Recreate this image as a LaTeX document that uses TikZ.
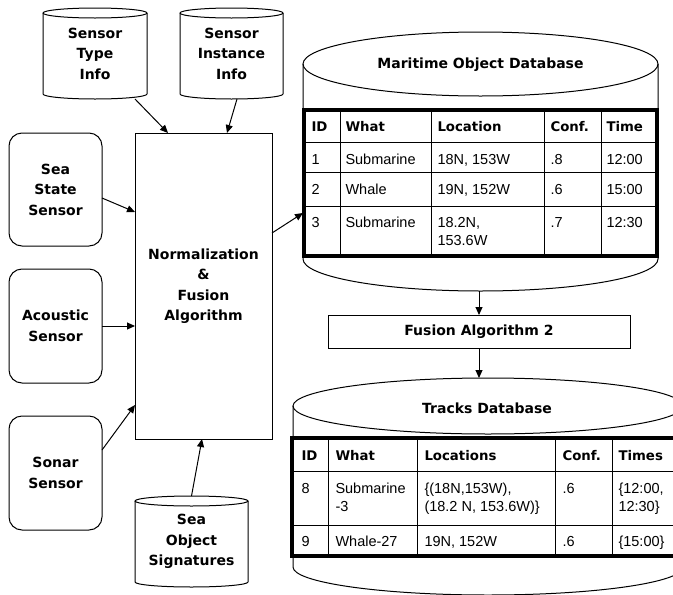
\documentclass[tikz,border=0pt]{standalone}
\usepackage{fontspec}
\setmainfont{Liberation Sans}
\newfontfamily\lblfont{DejaVu Sans}
\usetikzlibrary{arrows.meta,calc}

% cylinder outline round an (invisible) node: node, x radius, y radius
\newcommand{\dbshape}[3]{%
  \draw ($(#1.north west)+(0,#3)$) -- ($(#1.south west)-(0,#3)$)
    arc[start angle=180,end angle=0,x radius=#2,y radius=#3]
    -- ($(#1.north east)+(0,#3)$);
  \draw ($(#1.north)+(0,#3)$) ellipse [x radius=#2,y radius=#3];
}
\newcommand{\twoln}[2]{\vtop{\hbox{#1}\hbox{#2}}}

\begin{document}
\begin{tikzpicture}[x=1pt,y=-1pt,line width=1pt,
  lbl/.style={font=\lblfont\bfseries\fontsize{14}{20.5}\selectfont,align=center,inner sep=0pt,outer sep=0pt},
  proc/.style={lbl,draw},
  sensor/.style={proc,rounded corners=13pt},
  store/.style={lbl},
  head/.style={font=\lblfont\bfseries\fontsize{13.3}{16}\selectfont,inner sep=0pt,anchor=base west},
  cell/.style={font=\fontsize{14.5}{18}\selectfont,inner sep=0pt,anchor=base west},
  arr/.style={-{Triangle[length=8pt,width=7pt]}}]
\useasboundingbox (0,0) rectangle (673,595);
\clip (0,0) rectangle (673,595);

% stores
\node[store,minimum width=104pt,minimum height=91pt] (typeinfo) at (95,53.5) {Sensor\\Type\\Info};
\node[store,minimum width=103pt,minimum height=91pt] (instinfo) at (231.5,53.5) {Sensor\\Instance\\Info};
\node[store,minimum width=113pt,minimum height=91pt] (signatures) at (191.5,541.5) {Sea\\Object\\Signatures};
\dbshape{typeinfo}{52}{5}
\dbshape{instinfo}{51.5}{5}
\dbshape{signatures}{56.5}{5}

% sensors
\node[sensor,minimum width=93pt,minimum height=113pt] (seastate) at (55.5,189.5) {Sea\\State\\Sensor};
\node[sensor,minimum width=93pt,minimum height=114pt] (acoustic) at (55.5,326) {Acoustic\\Sensor};
\node[sensor,minimum width=93pt,minimum height=114pt] (sonar) at (55.5,473) {Sonar\\Sensor};
\node[proc,minimum width=137pt,minimum height=306pt] (norm) at (203.5,286) {Normalization\\\&\\Fusion\\Algorithm};

% maritime object database
\node[store,minimum width=355pt,minimum height=259pt] (modb) at (480.5,161.5) {};
\dbshape{modb}{177.5}{32}
\node[lbl] (modbtitle) at (480.5,65) {Maritime Object Database};
\draw[fill=white] (304,110) rectangle (657,256);
\foreach \x in {340,431,544,601} \draw (\x,110) -- (\x,256);
\foreach \y in {142,172,206} \draw (304,\y) -- (657,\y);
\draw[line width=3.5pt] (304,110) rectangle (657,256);
\foreach \x/\t [count=\i] in {311/ID,345/What,437/Location,550/Conf.,606/Time}
  \node[head] (mh\i) at (\x,131) {\t};
\foreach \y/\a/\b/\c/\d/\e [count=\r] in {164.5/1/Submarine/{18N, 153W}/.8/12:00,
    194/2/Whale/{19N, 152W}/.6/15:00,
    227.5/3/Submarine/{\twoln{18.2N,}{153.6W}}/.7/12:30} {
  \node[cell] (m\r-id) at (311,\y) {\a};
  \node[cell] (m\r-what) at (345,\y) {\b};
  \node[cell] (m\r-loc) at (437,\y) {\c};
  \node[cell] (m\r-conf) at (550,\y) {\d};
  \node[cell] (m\r-time) at (606,\y) {\e};
}

\node[proc,minimum width=302pt,minimum height=33pt] (fusion) at (479,331.5) {Fusion Algorithm 2};

% tracks database
\node[store,minimum width=390pt,minimum height=217pt] (tracks) at (488,486.5) {};
\dbshape{tracks}{195}{28}
\node[lbl] (trackstitle) at (487,408) {Tracks Database};
\draw[fill=white] (292,438) rectangle (700,556);
\foreach \x in {328,417,555,612} \draw (\x,438) -- (\x,556);
\foreach \y in {471,525} \draw (292,\y) -- (700,\y);
\draw[line width=3.5pt] (292,438) rectangle (700,556);
\foreach \x/\t [count=\i] in {301/ID,335/What,424/Locations,562/Conf.,618/Times}
  \node[head] (th\i) at (\x,460) {\t};
\foreach \y/\a/\b/\c/\d/\e [count=\r] in {493/8/{\twoln{Submarine}{-3}}/{\twoln{\{(18N,153W),}{(18.2 N, 153.6W)\}}}/.6/{\twoln{\{12:00,}{12:30\}}},
    546/9/Whale-27/{19N, 152W}/.6/{\{15:00\}}} {
  \node[cell] (t\r-id) at (301,\y) {\a};
  \node[cell] (t\r-what) at (335,\y) {\b};
  \node[cell] (t\r-loc) at (424,\y) {\c};
  \node[cell] (t\r-conf) at (562,\y) {\d};
  \node[cell] (t\r-time) at (618,\y) {\e};
}

% connectors
\draw[arr] ([xshift=40pt]typeinfo.south) -- ([xshift=-35.5pt]norm.north);
\draw[arr] ([xshift=5.5pt]instinfo.south) -- ([xshift=23.5pt]norm.north);
\draw[arr] ([yshift=-8.5pt]seastate.east) -- ([yshift=74pt]norm.west);
\draw[arr] (acoustic.east) -- (acoustic.east -| norm.west);
\draw[arr] ([yshift=23pt]sonar.east) -- ([yshift=-119pt]norm.west);
\draw[arr] (signatures.north) -- ([xshift=-1.5pt]norm.south);
\draw[arr] ([yshift=53pt]norm.east) -- ([yshift=-51.5pt]modb.west);
\draw[arr] (fusion.north |- modb.south) -- (fusion.north);
\draw[arr] (fusion.south) -- (fusion.south |- tracks.north);
\end{tikzpicture}
\end{document}
